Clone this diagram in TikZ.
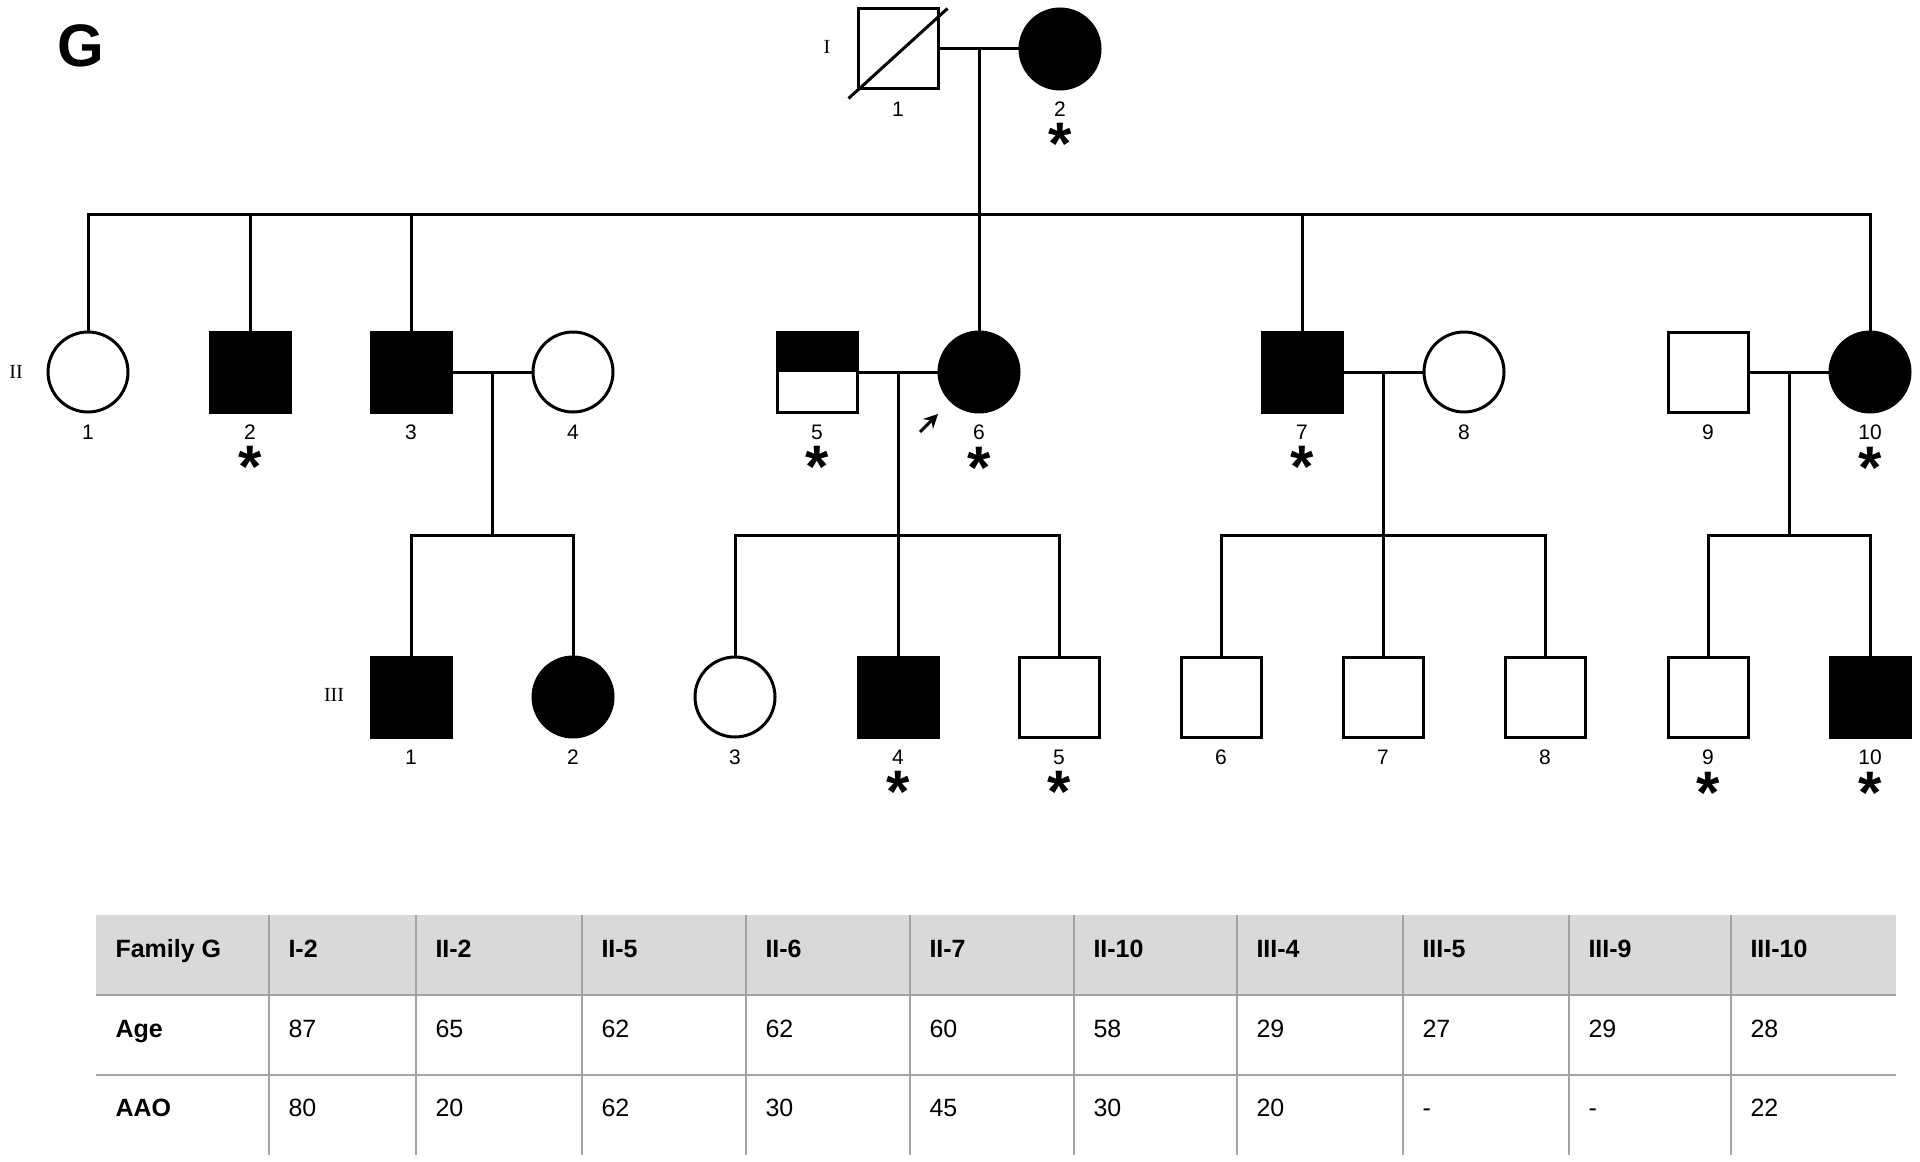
\documentclass[tikz,border=0pt]{standalone}
\usepackage{fontspec}
\setmainfont{Liberation Sans}
\newfontfamily\romfont{Liberation Serif}
\usetikzlibrary{shapes, arrows.meta, positioning, calc}
\definecolor{hdrgray}{HTML}{D9D9D9}
\definecolor{rulegray}{HTML}{A3A3A3}

\begin{document}
\begin{tikzpicture}[x=0.5pt, y=-0.5pt, line width=1.5pt,
  male/.style={draw, rectangle, minimum size=40pt, inner sep=0pt},
  female/.style={draw, circle, minimum size=40pt, inner sep=0pt},
  aff/.style={fill=black},
  num/.style={font=\fontsize{10.5}{12}\selectfont, inner sep=0pt},
  gen/.style={font=\romfont\fontsize{10}{12}\selectfont, inner sep=0pt},
  affmark/.style={font=\bfseries\fontsize{30}{30}\selectfont, inner sep=0pt},
  hcell/.style={anchor=base west, inner sep=0pt, font=\bfseries\fontsize{12.5}{14}\selectfont},
  cell/.style={anchor=base west, inner sep=0pt, font=\fontsize{12.5}{14}\selectfont},
  proband/.style={-{Stealth[length=7pt,width=7pt]}},
  rule/.style={rulegray, line width=1pt}]

\useasboundingbox (0,0) rectangle (1920,1161);

\node[font=\bfseries\fontsize{30}{30}\selectfont, inner sep=0pt] (G) at (81,46) {G};

% generation labels
\node[gen] (gI) at (827,47) {I};
\node[gen] (gII) at (16,372) {II};
\node[gen] (gIII) at (334,695) {III};

% generation I
\node[male] (I1) at (898,49) {};
\node[female,aff] (I2) at (1060,49) {};
\draw ($(I1.south west)+(-8,8)$) -- ($(I1.north east)+(8,1)$);

% generation II
\node[female] (II1) at (88,372) {};
\node[male,aff] (II2) at (250,372) {};
\node[male,aff] (II3) at (411,372) {};
\node[female] (II4) at (573,372) {};
\node[male] (II5) at (817,372) {};
\fill (II5.north west) rectangle (II5.east);
\node[female,aff] (II6) at (979,372) {};
\node[male,aff] (II7) at (1302,372) {};
\node[female] (II8) at (1464,372) {};
\node[male] (II9) at (1708,372) {};
\node[female,aff] (II10) at (1870,372) {};

% generation III
\node[male,aff] (III1) at (411,697) {};
\node[female,aff] (III2) at (573,697) {};
\node[female] (III3) at (735,697) {};
\node[male,aff] (III4) at (898,697) {};
\node[male] (III5) at (1059,697) {};
\node[male] (III6) at (1221,697) {};
\node[male] (III7) at (1383,697) {};
\node[male] (III8) at (1545,697) {};
\node[male] (III9) at (1708,697) {};
\node[male,aff] (III10) at (1870,697) {};

% marriages and descent
\draw (I1) -- (I2);
\coordinate (mI) at ($(I1.east)!0.5!(I2.west)$);
\coordinate (sII) at (979,214);
\draw (mI) -- (sII);
\draw (II1.north) |- (sII) -| (II10.north);
\foreach \c in {II2,II3,II6,II7}
  \draw (\c.north) -- (\c.north |- sII);

\foreach \a/\b/\m in {II3/II4/a, II5/II6/b, II7/II8/c, II9/II10/d} {
  \draw (\a) -- (\b);
  \coordinate (m\m) at ($(\a.east)!0.5!(\b.west)$);
  \path (m\m) ++(0,163) coordinate (s\m);
  \draw (m\m) -- (s\m);
}
\draw (III1.north) |- (sa) -| (III2.north);
\draw (III3.north) |- (sb) -| (III5.north);
\draw (sb) -- (III4.north);
\draw (III6.north) |- (sc) -| (III8.north);
\draw (sc) -- (III7.north);
\draw (III9.north) |- (sd) -| (III10.north);

% proband
\coordinate (pbtail) at (920,432);
\coordinate (pbtip) at (938,414);
\draw[proband] (pbtail) -- (pbtip);

% numbers
\foreach \p/\t in {I1/1,I2/2,II1/1,II2/2,II3/3,II4/4,II5/5,II6/6,II7/7,II8/8,II9/9,II10/10,
  III1/1,III2/2,III3/3,III4/4,III5/5,III6/6,III7/7,III8/8,III9/9,III10/10}
  \node[num, below=5pt of \p] (n\p) {\t};

% sequenced
\foreach \p in {I2,II2,II5,II6,II7,II10,III4,III5,III9,III10}
  \node[affmark, below=2pt of n\p] (s\p) {*};

% table
\fill[hdrgray] (96,915) rectangle (1896,995);
\draw[rule] (96,995) -- (1896,995) (96,1075) -- (1896,1075);
\foreach \x in {269,416,582,746,910,1074,1237,1403,1569,1731}
  \draw[rule] (\x,915) -- (\x,1155);

\node[hcell] (tfam) at (114,957) {Family G};
\node[hcell] (tage) at (114,1037) {Age};
\node[hcell] (taao) at (114,1116) {AAO};
\foreach \x/\h/\a/\o [count=\i] in {269/I-2/87/80, 416/II-2/65/20, 582/II-5/62/62,
  746/II-6/62/30, 910/II-7/60/45, 1074/II-10/58/30, 1237/III-4/29/20,
  1403/III-5/27/-, 1569/III-9/29/-, 1731/III-10/28/22} {
  \node[hcell] (h\i) at (\x+18,957) {\h};
  \node[cell] (a\i) at (\x+18,1037) {\a};
  \node[cell] (o\i) at (\x+18,1116) {\o};
}
\end{tikzpicture}
\end{document}
